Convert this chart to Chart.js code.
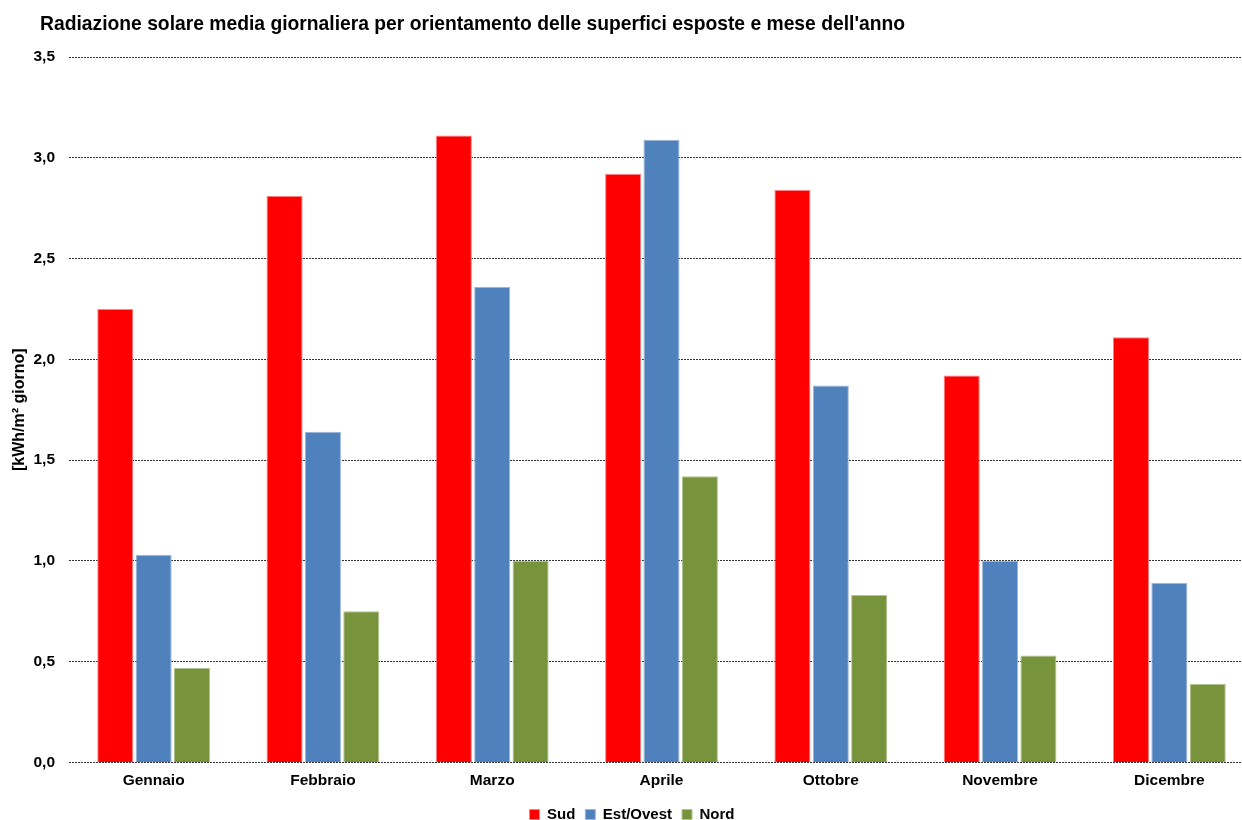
<!DOCTYPE html>
<html>
<head>
<meta charset="utf-8">
<title>Radiazione solare media giornaliera</title>
<script src="https://cdn.jsdelivr.net/npm/chart.js@4/dist/chart.umd.min.js"></script>
<style>
  html, body { margin: 0; padding: 0; background: #fff; overflow: hidden; }
  #wrap { width: 1258px; height: 832px; }
</style>
</head>
<body>
<div id="wrap"><canvas id="radChart" width="1258" height="832"></canvas></div>
<script>
const mesi = ['Gennaio', 'Febbraio', 'Marzo', 'Aprile', 'Ottobre', 'Novembre', 'Dicembre'];
const sud = [2.25, 2.81, 3.11, 2.92, 2.84, 1.92, 2.11];
const estOvest = [1.03, 1.64, 2.36, 3.09, 1.87, 1.00, 0.89];
const nord = [0.47, 0.75, 1.00, 1.42, 0.83, 0.53, 0.39];
const yTicks = [0, 0.5, 1.0, 1.5, 2.0, 2.5, 3.0, 3.5];

const FONT = '"Liberation Sans", Arial, sans-serif';
Chart.defaults.font.family = FONT;
Chart.defaults.color = '#000';

// titolo disegnato a mano, allineato a sinistra
const titlePlugin = {
  id: 'leftTitle',
  afterDraw(chart) {
    const ctx = chart.ctx;
    ctx.save();
    ctx.font = 'bold 19.3px ' + FONT;
    ctx.fillStyle = '#000';
    ctx.textBaseline = 'middle';
    ctx.fillText('Radiazione solare media giornaliera per orientamento delle superfici esposte e mese dell\'anno', 40, 25);
    ctx.restore();
  },
};

function serie(label, data, color, edge) {
  return {
    label,
    data,
    backgroundColor: color,
    borderColor: edge,
    borderWidth: 1,
    categoryPercentage: 0.68,
    barPercentage: 0.94,
  };
}

new Chart(document.getElementById('radChart'), {
  type: 'bar',
  data: {
    labels: mesi,
    datasets: [
      serie('Sud', sud, '#FF0000', '#FF8080'),
      serie('Est/Ovest', estOvest, '#4F81BD', '#9DB7D8'),
      serie('Nord', nord, '#77933C', '#B3C48F'),
    ],
  },
  options: {
    responsive: false,
    animation: false,
    layout: { padding: { top: 57, right: 4, bottom: 0, left: 10 } },
    plugins: {
      tooltip: { enabled: false },
      title: { display: false },
      legend: {
        position: 'bottom',
        labels: {
          boxWidth: 10,
          boxHeight: 10,
          padding: 10,
          font: { size: 15, weight: 'bold' },
        },
      },
    },
    scales: {
      x: {
        grid: { display: false },
        border: { display: false },
        ticks: { font: { size: 15.5, weight: 'bold' }, padding: 1 },
        afterFit(scale) {
          scale.height += 6;
        },
      },
      y: {
        min: 0,
        max: 3.5,
        afterBuildTicks(scale) {
          scale.ticks = yTicks.map((v) => ({ value: v }));
        },
        afterFit(scale) {
          scale.width = 59;
        },
        grid: {
          color: '#333',
          lineWidth: 1,
          drawTicks: false,
        },
        border: { display: false, dash: [2, 1] },
        ticks: {
          padding: 14,
          font: { size: 15.5, weight: 'bold' },
          callback: (v) => v.toFixed(1).replace('.', ','),
        },
        title: {
          display: true,
          text: '[kWh/m² giorno]',
          font: { size: 16, weight: 'bold' },
          padding: 0,
        },
      },
    },
  },
  plugins: [titlePlugin],
});
</script>
</body>
</html>
